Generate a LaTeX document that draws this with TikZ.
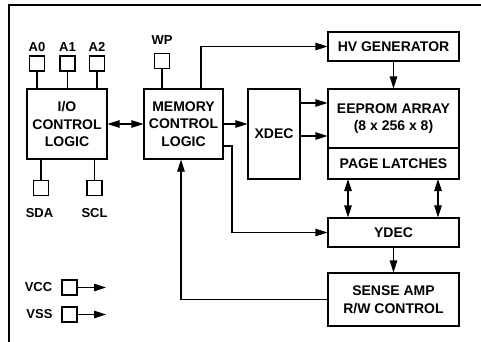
\documentclass[tikz,border=0pt]{standalone}
\usepackage{fontspec}
\setmainfont{Liberation Sans}
\usetikzlibrary{arrows.meta}
\begin{document}
\begin{tikzpicture}[x=1pt,y=-1pt,line width=1.1pt,
  box/.style={draw,rectangle,align=center,inner sep=0pt,font=\bfseries\fontsize{14}{17.5}\selectfont},
  pin/.style={draw,rectangle,inner sep=0pt,minimum width=15,minimum height=15},
  pinlabel/.style={inner sep=0pt,font=\bfseries\fontsize{13}{15}\selectfont},
  >={Triangle[length=12pt,width=7.5pt]}]
\useasboundingbox (0,0) rectangle (481,342);
% frame
\draw (9,342) -- (9,5) -- (481,5);
% main blocks
\node[box,minimum width=80,minimum height=70] (io) at (67,124) {I/O\\CONTROL\\LOGIC};
\node[box,minimum width=79,minimum height=70] (mem) at (183.5,124) {MEMORY\\CONTROL\\LOGIC};
\node[box,minimum width=52,minimum height=90] (xdec) at (274,134) {XDEC};
\node[box,minimum width=131,minimum height=29] (hv) at (393.5,46.5) {HV GENERATOR};
\node[box,minimum width=131,minimum height=59] (ee) at (393.5,118.5) {EEPROM ARRAY\\(8 x 256 x 8)};
\node[box,minimum width=131,minimum height=31] (pl) at (393.5,163.5) {PAGE LATCHES};
\node[box,minimum width=131,minimum height=29] (ydec) at (393.5,232.5) {YDEC};
\node[box,minimum width=131,minimum height=53] (sense) at (393.5,299.5) {SENSE AMP\\R/W CONTROL};
% pins
\node[pin] (a0) at (37,63.5) {};
\node[pin] (a1) at (67.5,63.5) {};
\node[pin] (a2) at (97,63.5) {};
\node[pin] (wp) at (162,61) {};
\node[pin] (sda) at (41,188) {};
\node[pin] (scl) at (94.5,188) {};
\node[pin] (vcc) at (69.5,287.5) {};
\node[pin] (vss) at (69.5,314.5) {};
\node[pinlabel] (la0) at (37,47) {A0};
\node[pinlabel] (la1) at (67.5,47) {A1};
\node[pinlabel] (la2) at (97,47) {A2};
\node[pinlabel] (lwp) at (162,40) {WP};
\node[pinlabel] (lsda) at (39.5,213) {SDA};
\node[pinlabel] (lscl) at (94.5,213) {SCL};
\node[pinlabel] (lvcc) at (38.5,287.5) {VCC};
\node[pinlabel] (lvss) at (39.5,314.5) {VSS};
% pin wires
\draw (a0) -- (a0 |- io.north);
\draw (a1) -- (a1 |- io.north);
\draw (a2) -- (a2 |- io.north);
\draw (wp) -- (wp |- mem.north);
\draw (sda) -- (sda |- io.south);
\draw (scl) -- (scl |- io.south);
\coordinate (vccend) at (106,287.5);
\coordinate (vssend) at (106,314.5);
\draw[->] (vcc.east) -- (vccend);
\draw[->] (vss.east) -- (vssend);
% connectors
\draw[<->] (io.east) -- (mem.west);
\draw[->] (mem.east) -- (mem.east -| xdec.west);
\draw[->] ([xshift=17.5]mem.north) |- (hv.west);
\coordinate (x1) at (300,103);
\coordinate (x2) at (300,136);
\draw[->] (x1) -- (x1 -| ee.west);
\draw[->] (x2) -- (x2 -| ee.west);
\draw[->] (hv.south) -- (ee.north);
\coordinate (m1) at (223,146);
\coordinate (m2) at (232,146);
\draw[->] (m1) -- (m2) |- (ydec.west);
\draw[->] (sense.west) -| ([xshift=-2.5]mem.south);
\coordinate (p1) at (348,179);
\coordinate (p2) at (438,179);
\draw[<->] (p1) -- (p1 |- ydec.north);
\draw[<->] (p2) -- (p2 |- ydec.north);
\draw[->] (ydec.south) -- (sense.north);
\end{tikzpicture}
\end{document}
